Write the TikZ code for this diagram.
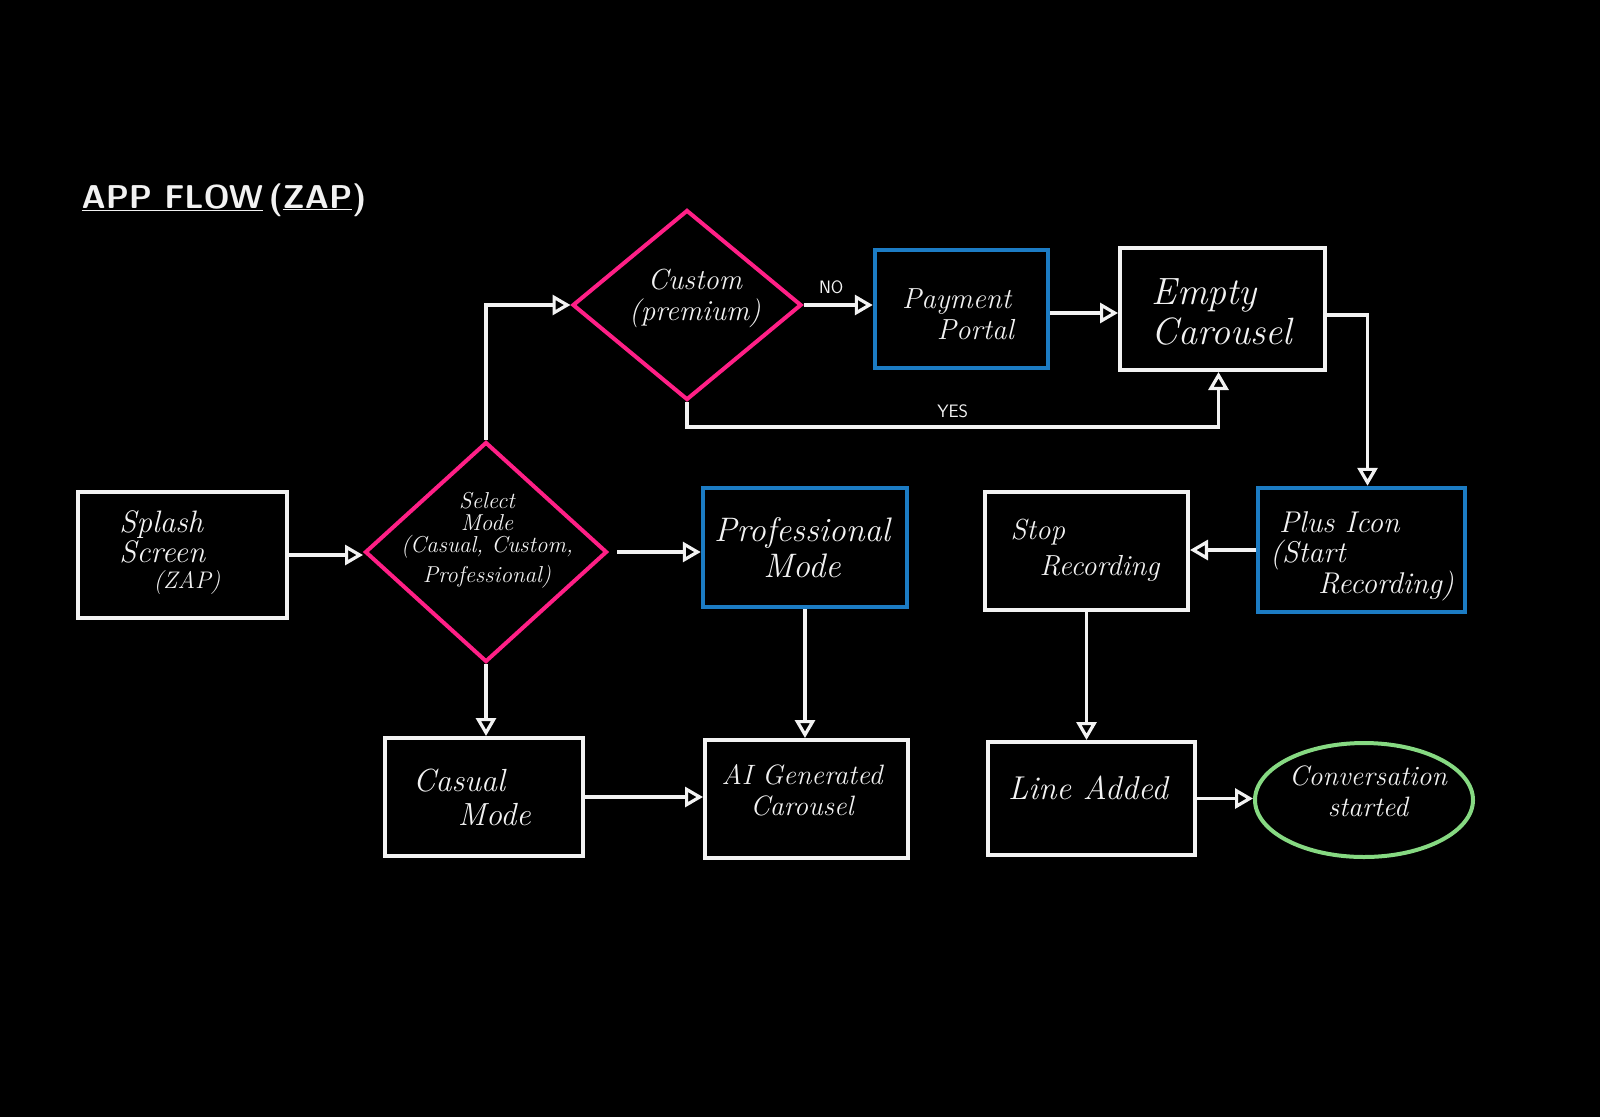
\documentclass[tikz,border=0pt]{standalone}
\usepackage{fontspec}
\usetikzlibrary{shapes.geometric,arrows.meta,calc}
\definecolor{chalk}{HTML}{F2F2F2}
\definecolor{pinkc}{HTML}{FF1F86}
\definecolor{bluec}{HTML}{1C7CC4}
\definecolor{greenc}{HTML}{86D982}
\tikzset{
  hand/.style={font=\itshape\fontsize{32}{34}\selectfont, text=chalk, align=center},
  wbox/.style={draw=chalk, line width=4pt, rectangle, inner sep=0pt},
  bbox/.style={draw=bluec, line width=4.5pt, rectangle, inner sep=0pt},
  pdiam/.style={draw=pinkc, line width=4pt, diamond, inner sep=0pt},
  gell/.style={draw=greenc, line width=4pt, ellipse, inner sep=0pt},
  arr/.style={draw=chalk, line width=3.2pt, -{Triangle[open,length=18pt,width=20pt,fill=black]}},
  lbl/.style={font=\sffamily\fontsize{18}{20}\selectfont, text=chalk}
}
\begin{document}
\begin{tikzpicture}[x=1pt,y=-1pt]
\fill[black] (0,0) rectangle (1600,1117);
\useasboundingbox (0,0) rectangle (1600,1117);

% title
\node[font=\sffamily\bfseries\fontsize{33}{35}\selectfont, text=chalk] (title) at (224,200)
  {\underline{APP FLOW}\,(\underline{ZAP})};

% nodes
\node[wbox, minimum width=209pt, minimum height=126pt] (splash) at (182.5,555) {};
\node[hand, align=left, font=\itshape\fontsize{31}{30}\selectfont] (splasht) at (170,553) {Splash\\Screen\\[-4pt]\hspace*{1.1em}{\fontsize{24}{24}\selectfont(ZAP)}};

\node[pdiam, minimum width=242pt, minimum height=220pt] (sel) at (486,552) {};
\node[hand, font=\itshape\fontsize{23}{22}\selectfont] (selt) at (487,540) {Select\\Mode\\(Casual, Custom,\\[6pt]Professional)};

\node[pdiam, minimum width=229pt, minimum height=190pt] (cust) at (687,305) {};
\node[hand, font=\itshape\fontsize{29}{31}\selectfont] (custt) at (695,298) {Custom\\(premium)};

\node[bbox, minimum width=173pt, minimum height=118pt] (pay) at (961.5,309) {};
\node[hand, font=\itshape\fontsize{29}{31}\selectfont, align=left] (payt) at (958,314) {Payment\\\hspace*{1.2em}Portal};

\node[wbox, minimum width=205pt, minimum height=122pt] (empty) at (1222.5,309) {};
\node[hand, font=\itshape\fontsize{38}{40}\selectfont, align=left] (emptyt) at (1222,312) {Empty\\Carousel};

\node[bbox, minimum width=207pt, minimum height=124pt] (plus) at (1361.5,550) {};
\node[hand, align=left, font=\itshape\fontsize{30}{30}\selectfont] (plust) at (1362,556) {\hspace*{0.3em}Plus Icon\\(Start\\\hspace*{1.6em}Recording)};

\node[wbox, minimum width=203pt, minimum height=118pt] (stop) at (1086.5,551) {};
\node[hand, align=left, font=\itshape\fontsize{29}{36}\selectfont] (stopt) at (1085,550) {Stop\\\hspace*{1.0em}Recording};

\node[bbox, minimum width=204pt, minimum height=119pt] (prof) at (805,547.5) {};
\node[hand, font=\itshape\fontsize{34}{36}\selectfont] (proft) at (802,548) {Professional\\Mode};

\node[wbox, minimum width=198pt, minimum height=118pt] (casual) at (484,797) {};
\node[hand, align=left] (casualt) at (472,797) {Casual\\\hspace*{1.4em}Mode};

\node[wbox, minimum width=203pt, minimum height=118pt] (ai) at (806.5,799) {};
\node[hand, font=\itshape\fontsize{28}{31}\selectfont] (ait) at (802,790) {AI Generated\\Carousel};

\node[wbox, minimum width=207pt, minimum height=113pt] (line) at (1091.5,798.5) {};
\node[hand, font=\itshape\fontsize{33}{35}\selectfont] (linet) at (1088,788) {Line Added};

\node[gell, minimum width=218pt, minimum height=114pt] (conv) at (1364,800) {};
\node[hand, font=\itshape\fontsize{28}{31}\selectfont] (convt) at (1368,791) {Conversation\\started};

% connectors
\draw[arr] (splash.east) -- (splash.east -| sel.west);
\draw[arr] (sel.north) |- (cust.west);
\draw[arr] (cust.east) -- node[lbl, above=6pt, pos=0.4] (no) {NO} (cust.east -| pay.west);
\draw[arr] ([yshift=-4pt]pay.east) -- ([yshift=-4pt]empty.west);
\draw[arr] (cust.south) -- ++(0,25) -| node[lbl, above=4pt, pos=0.25] (yes) {YES} ([xshift=-4pt]empty.south);
\draw[arr] ([yshift=-6pt]empty.east) -| ([xshift=6pt]plus.north);
\draw[arr] (plus.west) -- (plus.west -| stop.east);
\draw[arr] (stop.south) -- (stop.south |- line.north);
\draw[arr] (line.east) -- (line.east -| conv.west);
\draw[arr] ([xshift=8pt]sel.east) -- (sel.east -| prof.west);
\draw[arr] (prof.south) -- (prof.south |- ai.north);
\draw[arr] (sel.south) -- (sel.south |- casual.north);
\draw[arr] (casual.east) -- (casual.east -| ai.west);
\end{tikzpicture}
\end{document}
